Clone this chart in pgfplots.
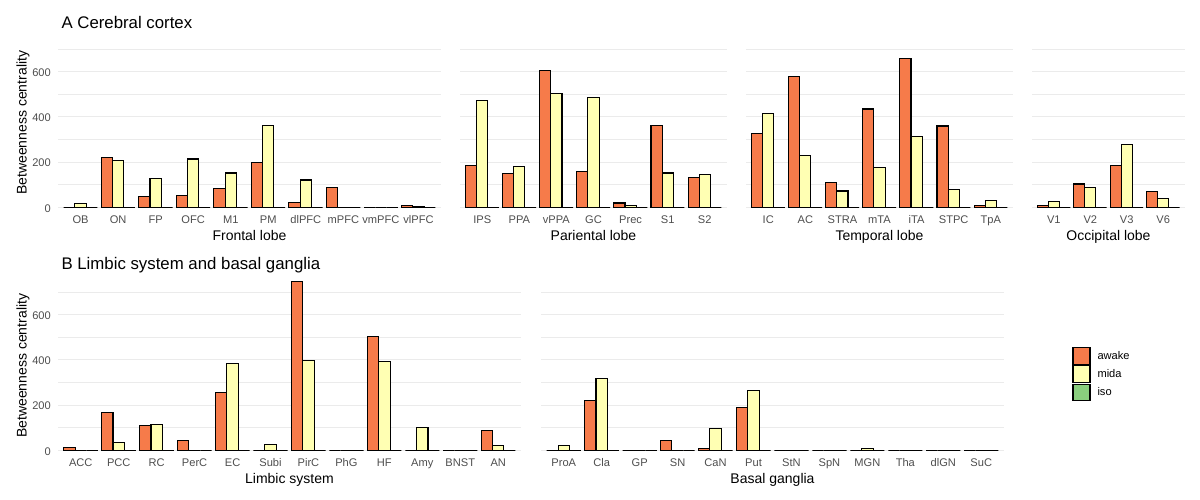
\documentclass[border=0pt]{standalone}
\usepackage{fontspec}
\setmainfont{Liberation Sans}
\usepackage{pgfplots}
\usepackage{pgfplotstable}
\pgfplotsset{compat=1.18}

\definecolor{awake}{HTML}{F67B4A}
\definecolor{mida}{HTML}{FFFFB3}
\definecolor{iso}{HTML}{8ACE7E}
\definecolor{grid92}{HTML}{EBEBEB}
\definecolor{grey30}{HTML}{4D4D4D}

% betweenness centrality per region: awake, mida, iso
\pgfplotstableread{
x label awake mida iso
1 OB 0 16 0
2 ON 221 206 0
3 FP 47 128 0
4 OFC 51 214 0
5 M1 82 152 0
6 PM 197 361 0
7 dlPFC 22 121 0
8 mPFC 87 0 0
9 vmPFC 0 0 0
10 vlPFC 6 3 0
}\frontal
\pgfplotstableread{
x label awake mida iso
1 IPS 184 471 0
2 PPA 150 180 0
3 vPPA 605 503 0
4 GC 158 485 0
5 Prec 19 6 0
6 S1 363 152 0
7 S2 130 145 0
}\parietal
\pgfplotstableread{
x label awake mida iso
1 IC 326 414 0
2 AC 578 230 0
3 STRA 111 72 0
4 mTA 435 177 0
5 iTA 658 313 0
6 STPC 360 80 0
7 TpA 9 31 0
}\temporal
\pgfplotstableread{
x label awake mida iso
1 V1 6 24 0
2 V2 103 89 0
3 V3 186 279 0
4 V6 68 38 0
}\occipital
\pgfplotstableread{
x label awake mida iso
1 ACC 13 0 0
2 PCC 166 35 0
3 RC 108 115 0
4 PerC 43 0 0
5 EC 257 384 0
6 Subi 0 27 0
7 PirC 748 398 0
8 PhG 0 0 0
9 HF 504 393 0
10 Amy 0 100 0
11 BNST 0 0 0
12 AN 87 22 0
}\limbic
\pgfplotstableread{
x label awake mida iso
1 ProA 0 21 0
2 Cla 222 318 0
3 GP 0 0 0
4 SN 43 0 0
5 CaN 6 95 0
6 Put 188 266 0
7 StN 0 0 0
8 SpN 0 0 0
9 MGN 0 7 0
10 Tha 0 0 0
11 dlGN 0 0 0
12 SuC 0 0 0
}\basal

\pgfplotsset{
  panel/.style={
    scale only axis, anchor=south west,
    height=185.85pt,
    ymin=-37.4, ymax=785.4,
    ytick={0,200,400,600}, minor ytick={100,300,500,700},
    ymajorgrids, yminorgrids,
    major grid style={grid92, line width=1.07pt},
    minor grid style={grid92, line width=0.53pt},
    axis line style={draw=none},
    tick style={draw=none},
    ticklabel style={font=\fontsize{11.1}{13}\selectfont, text=grey30},
    xticklabel style={anchor=base, yshift=-8.2pt},
    yticklabel style={anchor=east, inner sep=0pt, xshift=-7pt, yshift=-1pt},
    /pgf/number format/assume math mode=true,
    xlabel style={font=\fontsize{14}{16}\selectfont, anchor=base,
      at={(axis description cs:0.5,-0.1308)}},
    ylabel style={font=\fontsize{14}{16}\selectfont, anchor=base},
  },
  noy/.style={yticklabels={,,,}},
  bars/.style={ybar, bar width=0.3, draw=black, line width=1.1pt},
}

\newcommand{\threebars}[2][]{%
  \addplot[bars, bar shift=-0.3, fill=awake, #1] table[x=x, y=awake]{#2};
  \addplot[bars, bar shift=0, fill=mida, #1] table[x=x, y=mida]{#2};
  \addplot[bars, bar shift=0.3, fill=iso, #1] table[x=x, y=iso]{#2};
}

\begin{document}
\begin{tikzpicture}
\useasboundingbox (0,0) rectangle (1200pt,500pt);

% row A
\begin{axis}[panel, at={(58pt,284.25pt)}, width=383pt,
  xmin=0.4, xmax=10.6, xtick={1,...,10},
  xticklabels from table={\frontal}{label},
  xlabel={Frontal lobe}, ylabel={Betweenness centrality},
  ylabel style={at={(axis description cs:-0.0817,0.5)}}]
\threebars{\frontal}
\end{axis}

\begin{axis}[panel, noy, at={(460pt,284.25pt)}, width=267pt,
  xmin=0.4, xmax=7.6, xtick={1,...,7},
  xticklabels from table={\parietal}{label},
  xlabel={Pariental lobe}]
\threebars{\parietal}
\end{axis}

\begin{axis}[panel, noy, at={(746pt,284.25pt)}, width=267pt,
  xmin=0.4, xmax=7.6, xtick={1,...,7},
  xticklabels from table={\temporal}{label},
  xlabel={Temporal lobe}]
\threebars{\temporal}
\end{axis}

\begin{axis}[panel, noy, at={(1032pt,284.25pt)}, width=153pt,
  xmin=0.4, xmax=4.6, xtick={1,...,4},
  xticklabels from table={\occipital}{label},
  xlabel={Occipital lobe}]
\threebars{\occipital}
\end{axis}

% row B
\begin{axis}[panel, at={(58pt,41.25pt)}, width=463pt,
  xmin=0.4, xmax=12.6, xtick={1,...,12},
  xticklabels from table={\limbic}{label},
  xlabel={Limbic system}, ylabel={Betweenness centrality},
  ylabel style={at={(axis description cs:-0.0676,0.5)}}]
\threebars{\limbic}
\end{axis}

\begin{axis}[panel, noy, at={(541pt,41.25pt)}, width=463pt,
  xmin=0.4, xmax=12.6, xtick={1,...,12},
  xticklabels from table={\basal}{label},
  xlabel={Basal ganglia},
  legend image code/.code={\draw[#1] (0pt,-8.4pt) rectangle (17pt,8.4pt);},
  legend style={at={(axis description cs:1.1473,0.455)}, anchor=west,
    draw=none, fill=none, inner sep=0pt, row sep=0.4pt, column sep=7pt,
    nodes={inner sep=0pt}, font=\fontsize{11.1}{13}\selectfont},
  legend cell align=left]
\threebars[forget plot]{\basal}
\addlegendimage{fill=awake, draw=black, line width=1.1pt}
\addlegendimage{fill=mida, draw=black, line width=1.1pt}
\addlegendimage{fill=iso, draw=black, line width=1.1pt}
\legend{awake,mida,iso}
\end{axis}

\node[anchor=base west, font=\fontsize{16.8}{19}\selectfont] at (58pt,471.7pt) {A Cerebral cortex};
\node[anchor=base west, font=\fontsize{16.8}{19}\selectfont] at (58pt,230pt) {B Limbic system and basal ganglia};
\end{tikzpicture}
\end{document}
